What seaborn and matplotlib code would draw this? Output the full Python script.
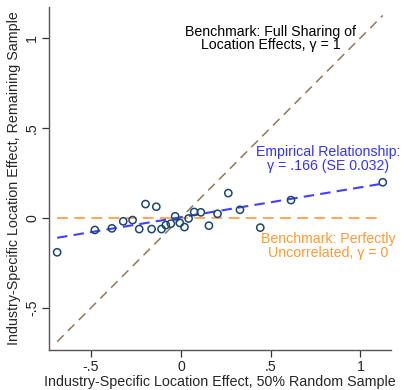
import numpy as np
import pandas as pd
import matplotlib
matplotlib.use("Agg")
import matplotlib.pyplot as plt
import seaborn as sns

# Industry-specific location effects: 50% random sample vs remaining sample
effect_half = [-0.689, -0.479, -0.384, -0.321, -0.269, -0.232, -0.197, -0.163,
               -0.137, -0.108, -0.084, -0.056, -0.032, -0.006, 0.020, 0.043,
               0.074, 0.111, 0.156, 0.204, 0.264, 0.329, 0.442, 0.613, 1.124]
effect_rest = [-0.192, -0.068, -0.059, -0.020, -0.013, -0.063, 0.076, -0.063,
               0.061, -0.063, -0.041, -0.033, 0.008, -0.029, -0.052, -0.004,
               0.032, 0.030, -0.044, 0.022, 0.137, 0.044, -0.055, 0.098, 0.197]

gamma_hat = 0.166
gamma_se = 0.032
fit_intercept = 0.003

x_ticks = [-0.5, 0, 0.5, 1]
x_tick_labels = ["-.5", "0", ".5", "1"]
y_ticks = [-0.5, 0, 0.5, 1]
y_tick_labels = ["-.5", "0", ".5", "1"]

sns.set_theme(style="white")
plt.rcParams["font.family"] = ["Liberation Sans", "DejaVu Sans"]

df = pd.DataFrame({"half": effect_half, "rest": effect_rest})
x_span = np.array([df["half"].min(), df["half"].max()])
lines = pd.DataFrame({
    "x": x_span,
    "full": x_span,
    "zero": np.zeros(2),
    "fit": fit_intercept + gamma_hat * x_span,
})

fig = plt.figure(figsize=(4.04, 3.90), dpi=100)
ax = fig.add_axes([0.121, 0.1026, 0.846, 0.8794])

sns.lineplot(data=lines, x="x", y="full", ax=ax, color="#8c7b5b", lw=1.1,
             linestyle=(0, (6, 4)), zorder=1)
sns.lineplot(data=lines, x="x", y="zero", ax=ax, color="#ffa04d", lw=1.3,
             linestyle=(0, (6, 3.5)), zorder=1)
sns.lineplot(data=lines, x="x", y="fit", ax=ax, color="#4040ff", lw=1.5,
             linestyle=(0, (5, 3)), zorder=2)
sns.scatterplot(data=df, x="half", y="rest", ax=ax, s=27, marker="o",
                facecolors="none", edgecolor="#1a476f", linewidth=1.1, zorder=3)

ax.set_xlim(-0.735, 1.168)
ax.set_ylim(-0.735, 1.171)
ax.set_xticks(x_ticks)
ax.set_xticklabels(x_tick_labels)
ax.set_yticks(y_ticks)
ax.set_yticklabels(y_tick_labels, rotation=90, va="center")
ax.tick_params(axis="both", direction="out", length=5, width=0.9,
               color="#333333", labelsize=10.2, pad=2, left=True, bottom=True)
for side in ["top", "right"]:
    ax.spines[side].set_visible(False)
for side in ["left", "bottom"]:
    ax.spines[side].set_color("#555555")
    ax.spines[side].set_linewidth(1.0)

ax.set_xlabel("Industry-Specific Location Effect, 50% Random Sample",
              fontsize=10.3, labelpad=1)
ax.set_ylabel("Industry-Specific Location Effect, Remaining Sample",
              fontsize=10.3, labelpad=3)

ax.text(0.499, 0.997, "Benchmark: Full Sharing of\nLocation Effects, \u03b3 = 1",
        ha="center", va="center", fontsize=10.2, color="black",
        linespacing=0.95)
ax.text(0.819, 0.326, "Empirical Relationship:\n\u03b3 = %s (SE %.3f)"
        % (("%.3f" % gamma_hat).lstrip("0"), gamma_se),
        ha="center", va="center", fontsize=10.2, color="#3333ff",
        linespacing=0.95)
ax.text(0.819, -0.158, "Benchmark: Perfectly\nUncorrelated, \u03b3 = 0",
        ha="center", va="center", fontsize=10.2, color="#ff9933",
        linespacing=0.95)

fig.savefig("out.png", dpi=100)
